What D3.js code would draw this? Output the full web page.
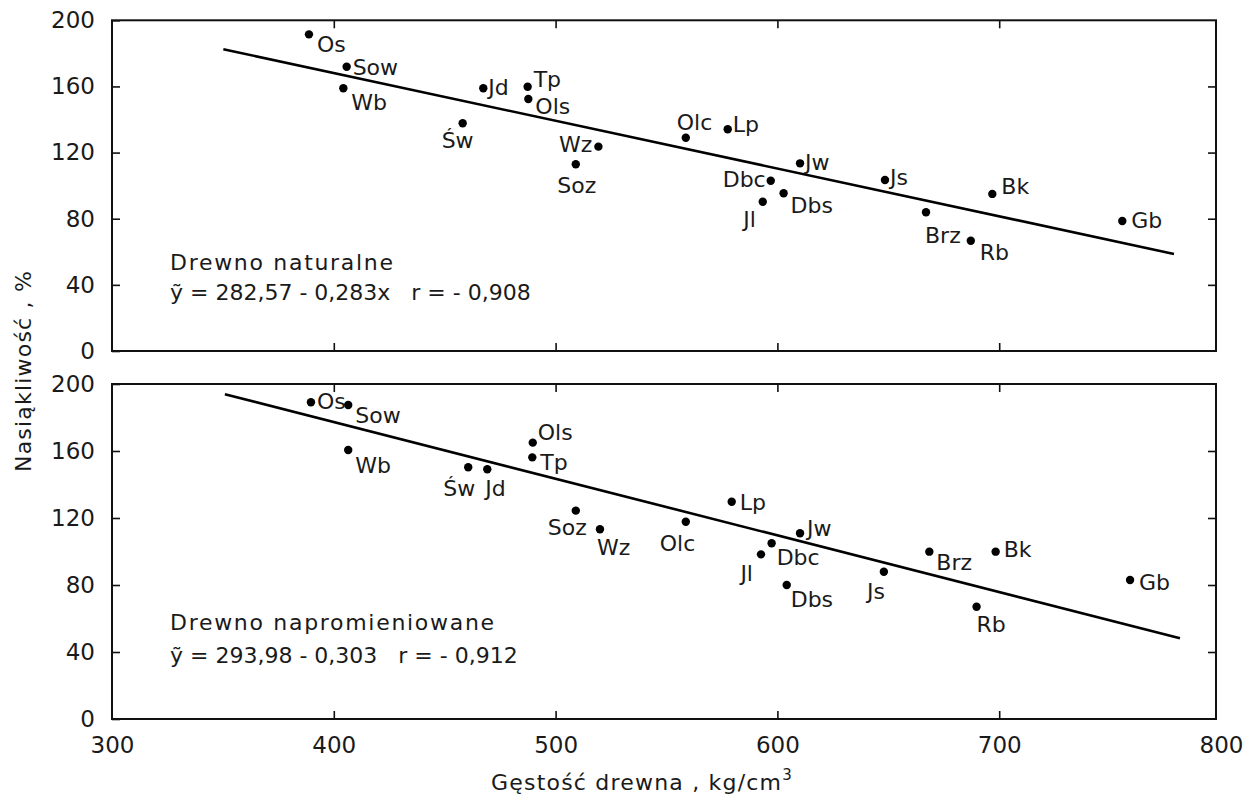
<!DOCTYPE html>
<html>
<head>
<meta charset="utf-8">
<script src="https://cdn.jsdelivr.net/npm/d3@7"></script>
<style>
  html, body { margin: 0; padding: 0; background: #fff; }
  svg { display: block; }
  text { font-family: "DejaVu Sans", "Liberation Sans", sans-serif; fill: #1a1a1a; }
</style>
</head>
<body>
<svg id="chart" width="1248" height="808"></svg>
<script>
// ---------------- DATA ----------------
const species = ["Os","Sow","Wb","Jd","Tp","Ols","Św","Wz","Soz","Olc","Lp","Dbc","Jl","Dbs","Jw","Js","Bk","Brz","Rb","Gb"];

// Drewno naturalne
const densityNatural = [388.8,405.8,404.3,467.4,487.4,487.7,458.1,519.3,509.1,558.7,577.6,597.0,593.4,602.8,610.2,648.5,696.9,667.0,687.2,755.5];
const absorptionNatural = [191.5,171.9,158.9,158.9,159.8,152.4,137.7,123.6,112.9,129.0,134.1,103.0,90.3,95.4,113.5,103.4,95.0,83.9,66.7,78.6];
const fitNaturalX = [350.2, 778.8];
const fitNaturalY = [182.5, 58.7];

// Drewno napromieniowane
const densityIrradiated = [389.7,406.5,406.5,469.2,489.5,489.7,460.6,520.0,509.1,558.7,579.4,597.4,592.6,604.2,610.2,648.0,698.4,668.5,689.8,759.0];
const absorptionIrradiated = [189.1,187.5,160.6,149.1,156.2,165.0,150.3,113.3,124.4,117.8,129.7,104.9,98.3,80.0,110.9,87.9,99.9,99.9,67.0,83.0];
const fitIrradiatedX = [350.9, 781.5];
const fitIrradiatedY = [193.9, 48.2];

const xTicks = [300,400,500,600,700,800];
const yTicks = [0,40,80,120,160,200];

const titleNatural = "Drewno naturalne";
const eqNatural = "ỹ = 282,57 - 0,283x   r = - 0,908";
const titleIrradiated = "Drewno napromieniowane";
const eqIrradiated = "ỹ = 293,98 - 0,303   r = - 0,912";
const yAxisTitle = "Nasiąkliwość , %";
const xAxisTitle = "Gęstość drewna , kg/cm";

// label placement (pixel offsets from the dot, anchor)
const labelPosNatural = {
  "Os":[8,18,"start"], "Sow":[6,8,"start"], "Wb":[8,22,"start"], "Jd":[5,7,"start"],
  "Tp":[6,0,"start"], "Ols":[7,15,"start"], "Św":[-21,25,"start"], "Wz":[-6,5,"end"],
  "Soz":[1,29,"middle"], "Olc":[-9,-8,"start"], "Lp":[5,3,"start"], "Dbc":[-5,6,"end"],
  "Jl":[-7,25,"end"], "Dbs":[7,20,"start"], "Jw":[5,7,"start"], "Js":[5,5,"start"],
  "Bk":[9,0,"start"], "Brz":[-1,31,"start"], "Rb":[9,19,"start"], "Gb":[9,7,"start"]
};
const labelPosIrradiated = {
  "Os":[6,7,"start"], "Sow":[7,18,"start"], "Wb":[7,23,"start"], "Ols":[5,-3,"start"],
  "Tp":[8,13,"start"], "Św":[-25,29,"start"], "Jd":[-2,27,"start"], "Soz":[11,24,"end"],
  "Wz":[-3,26,"start"], "Olc":[-26,29,"start"], "Lp":[8,8,"start"], "Dbc":[5,22,"start"],
  "Jl":[-8,27,"end"], "Dbs":[4,22,"start"], "Jw":[7,3,"start"], "Js":[1,27,"end"],
  "Brz":[7,18,"start"], "Bk":[8,5,"start"], "Rb":[0,25,"start"], "Gb":[9,10,"start"]
};

// ---------------- DRAW ----------------
const svg = d3.select("#chart");
const x = d3.scaleLinear().domain([300, 800]).range([112, 1221]);
const frameRight = 1216;

function panel(yRange, xs, ys, fx, fy, labelPos, title, eq, textY, showXLabels) {
  const y = d3.scaleLinear().domain([0, 200]).range(yRange);
  const g = svg.append("g");
  const top = y(200), bottom = y(0), left = x(300);

  // frame
  g.append("rect").attr("x", left).attr("y", top)
    .attr("width", frameRight - left).attr("height", bottom - top)
    .attr("fill", "none").attr("stroke", "#111").attr("stroke-width", 2);

  // left axis (inward ticks, labels outside)
  const la = g.append("g").attr("transform", `translate(${left},0)`)
    .call(d3.axisLeft(y).tickValues(yTicks).tickSizeInner(-8).tickSizeOuter(0).tickPadding(17));
  la.select(".domain").remove();
  la.selectAll("line").attr("stroke", "#111").attr("stroke-width", 1.6);
  la.selectAll("text").attr("font-size", 23).attr("fill", "#333")
    .style("font-family", "'DejaVu Sans', sans-serif");

  // right axis (inward ticks, no labels)
  const ra = g.append("g").attr("transform", `translate(${frameRight},0)`)
    .call(d3.axisRight(y).tickValues(yTicks.slice(1, -1)).tickSizeInner(-8).tickSizeOuter(0).tickFormat(""));
  ra.select(".domain").remove();
  ra.selectAll("line").attr("stroke", "#111").attr("stroke-width", 1.6);

  // top axis ticks
  const ta = g.append("g").attr("transform", `translate(0,${top})`)
    .call(d3.axisTop(x).tickValues(xTicks.slice(1, -1)).tickSizeInner(-8).tickSizeOuter(0).tickFormat(""));
  ta.select(".domain").remove();
  ta.selectAll("line").attr("stroke", "#111").attr("stroke-width", 1.6);

  // bottom axis ticks
  const ba = g.append("g").attr("transform", `translate(0,${bottom})`)
    .call(d3.axisBottom(x).tickValues(xTicks.slice(1, -1)).tickSizeInner(-8).tickSizeOuter(0).tickFormat(""));
  ba.select(".domain").remove();
  ba.selectAll("line").attr("stroke", "#111").attr("stroke-width", 1.6);

  if (showXLabels) {
    const bl = g.append("g").attr("transform", `translate(0,${bottom})`)
      .call(d3.axisBottom(x).tickValues(xTicks).tickSize(0).tickPadding(18));
    bl.select(".domain").remove();
    bl.selectAll("text").attr("font-size", 23).attr("fill", "#333")
      .style("font-family", "'DejaVu Sans', sans-serif");
  }

  // regression line
  const line = d3.line().x(d => x(d[0])).y(d => y(d[1]));
  g.append("path").datum(fx.map((v, i) => [v, fy[i]]))
    .attr("d", line).attr("fill", "none").attr("stroke", "#000").attr("stroke-width", 2.6);

  // points
  const pts = species.map((s, i) => ({ s, xv: xs[i], yv: ys[i] }));
  g.selectAll("circle.pt").data(pts).join("circle").attr("class", "pt")
    .attr("cx", d => x(d.xv)).attr("cy", d => y(d.yv)).attr("r", 4.2).attr("fill", "#000");

  g.selectAll("text.lbl").data(pts).join("text").attr("class", "lbl")
    .attr("x", d => x(d.xv) + labelPos[d.s][0])
    .attr("y", d => y(d.yv) + labelPos[d.s][1])
    .attr("text-anchor", d => labelPos[d.s][2])
    .attr("font-size", 22)
    .text(d => d.s);

  // annotation
  g.append("text").attr("x", 170).attr("y", textY[0]).attr("font-size", 22)
    .attr("letter-spacing", 1.7).attr("fill", "#222").text(title);
  g.append("text").attr("x", 170).attr("y", textY[1]).attr("font-size", 22)
    .attr("fill", "#222").attr("xml:space", "preserve").style("white-space", "pre").text(eq);
}

panel([351, 20.3], densityNatural, absorptionNatural, fitNaturalX, fitNaturalY,
  labelPosNatural, titleNatural, eqNatural, [270, 300], false);
panel([719, 384], densityIrradiated, absorptionIrradiated, fitIrradiatedX, fitIrradiatedY,
  labelPosIrradiated, titleIrradiated, eqIrradiated, [630, 663], true);

// axis titles
svg.append("text")
  .attr("transform", "translate(31,371) rotate(-90)")
  .attr("text-anchor", "middle").attr("font-size", 22).attr("letter-spacing", 1.2).attr("fill", "#333")
  .text(yAxisTitle);

const xt = svg.append("text")
  .attr("x", 642).attr("y", 790).attr("text-anchor", "middle")
  .attr("font-size", 22).attr("letter-spacing", 1.2).attr("fill", "#333");
xt.append("tspan").text(xAxisTitle);
xt.append("tspan").attr("dy", -10).attr("font-size", 15).text("3");
</script>
</body>
</html>
